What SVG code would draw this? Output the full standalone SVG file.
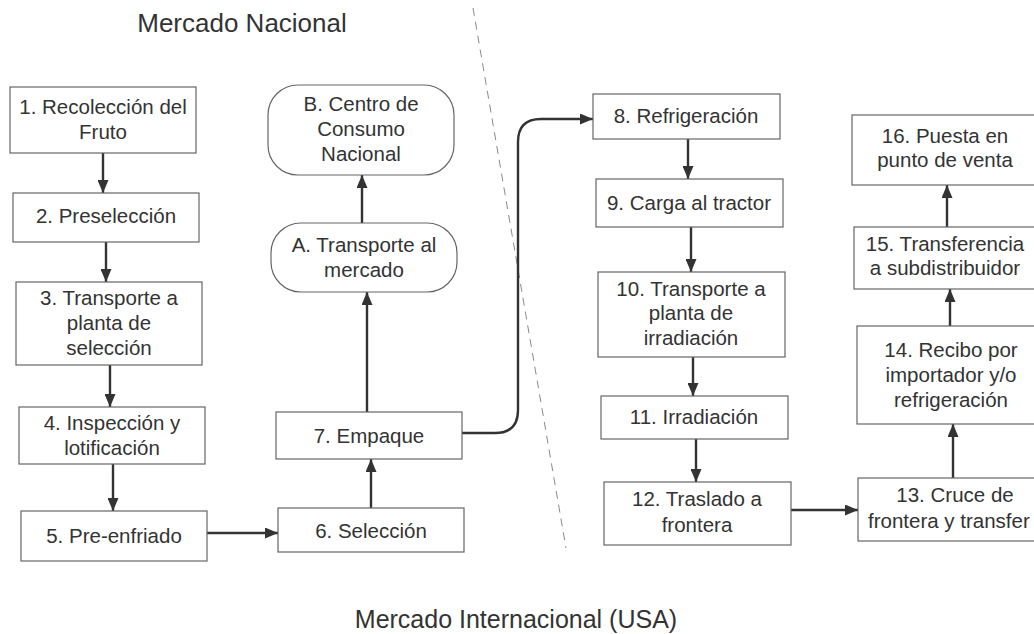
<svg xmlns="http://www.w3.org/2000/svg" width="1034" height="634" viewBox="0 0 1034 634">
<style>
  .box { fill: #ffffff; stroke: #666666; stroke-width: 1.2; }
  .t { font-family: "Liberation Sans", Arial, sans-serif; font-size: 20.5px; fill: #333333; text-anchor: middle; }
  .title { font-family: "Liberation Sans", Arial, sans-serif; font-size: 26px; fill: #333333; text-anchor: middle; }
  .conn { fill: none; stroke: #333333; stroke-width: 2.4; }
  .divider { fill: none; stroke: #8a8a8a; stroke-width: 1; stroke-dasharray: 8 6; }
</style>
<defs>
  <marker id="ah" viewBox="0 0 13 11" refX="13" refY="5.5" markerWidth="13" markerHeight="11" markerUnits="userSpaceOnUse" orient="auto">
    <path d="M0,0 L13,5.5 L0,11 Z" fill="#333333"/>
  </marker>
</defs>
<rect width="1034" height="634" fill="#ffffff"/>

<text class="title" x="242" y="32">Mercado Nacional</text>
<text class="title" x="516" y="628" style="font-size:25px">Mercado Internacional (USA)</text>

<line class="divider" x1="473" y1="8" x2="566" y2="548"/>

<g id="connectors">
  <line class="conn" x1="103" y1="153" x2="103" y2="193" marker-end="url(#ah)"/>
  <line class="conn" x1="106" y1="242" x2="106" y2="282" marker-end="url(#ah)"/>
  <line class="conn" x1="110" y1="365" x2="110" y2="407" marker-end="url(#ah)"/>
  <line class="conn" x1="113" y1="464" x2="113" y2="511" marker-end="url(#ah)"/>
  <line class="conn" x1="207" y1="533" x2="278" y2="533" marker-end="url(#ah)"/>
  <line class="conn" x1="371" y1="508" x2="371" y2="459" marker-end="url(#ah)"/>
  <line class="conn" x1="367" y1="412" x2="367" y2="292" marker-end="url(#ah)"/>
  <line class="conn" x1="362" y1="223" x2="362" y2="175" marker-end="url(#ah)"/>
  <path class="conn" d="M462,433 L495,433 Q518,433 518,410 L518,142 Q518,119 541,119 L593,119" marker-end="url(#ah)"/>
  <line class="conn" x1="688" y1="139" x2="688" y2="179" marker-end="url(#ah)"/>
  <line class="conn" x1="691" y1="227" x2="691" y2="272" marker-end="url(#ah)"/>
  <line class="conn" x1="693" y1="357" x2="693" y2="396" marker-end="url(#ah)"/>
  <line class="conn" x1="696" y1="439" x2="696" y2="482" marker-end="url(#ah)"/>
  <line class="conn" x1="791" y1="510" x2="858" y2="510" marker-end="url(#ah)"/>
  <line class="conn" x1="953" y1="478" x2="953" y2="424" marker-end="url(#ah)"/>
  <line class="conn" x1="950" y1="326" x2="950" y2="289" marker-end="url(#ah)"/>
  <line class="conn" x1="947" y1="227" x2="947" y2="185" marker-end="url(#ah)"/>
</g>

<g id="n1">
  <rect class="box" x="10" y="87" width="186" height="66"/>
  <text class="t" x="103" y="114">1. Recolección del</text>
  <text class="t" x="103" y="139">Fruto</text>
</g>
<g id="n2">
  <rect class="box" x="13" y="193" width="186" height="49"/>
  <text class="t" x="106" y="223">2. Preselección</text>
</g>
<g id="n3">
  <rect class="box" x="16" y="282" width="186" height="83"/>
  <text class="t" x="109" y="305">3. Transporte a</text>
  <text class="t" x="109" y="330">planta de</text>
  <text class="t" x="109" y="355">selección</text>
</g>
<g id="n4">
  <rect class="box" x="19" y="407" width="186" height="57"/>
  <text class="t" x="112" y="430">4. Inspección y</text>
  <text class="t" x="112" y="455">lotificación</text>
</g>
<g id="n5">
  <rect class="box" x="21" y="511" width="186" height="50"/>
  <text class="t" x="114" y="543">5. Pre-enfriado</text>
</g>
<g id="n6">
  <rect class="box" x="278" y="508" width="186" height="44"/>
  <text class="t" x="371" y="538">6. Selección</text>
</g>
<g id="n7">
  <rect class="box" x="276" y="412" width="186" height="47"/>
  <text class="t" x="369" y="443">7. Empaque</text>
</g>
<g id="nA">
  <rect class="box" x="271" y="223" width="186" height="69" rx="30" ry="30"/>
  <text class="t" x="364" y="252">A. Transporte al</text>
  <text class="t" x="364" y="277">mercado</text>
</g>
<g id="nB">
  <rect class="box" x="268" y="85" width="186" height="90" rx="30" ry="30"/>
  <text class="t" x="361" y="111">B. Centro de</text>
  <text class="t" x="361" y="136">Consumo</text>
  <text class="t" x="361" y="161">Nacional</text>
</g>
<g id="n8">
  <rect class="box" x="593" y="94" width="187" height="45"/>
  <text class="t" x="686" y="123">8. Refrigeración</text>
</g>
<g id="n9">
  <rect class="box" x="596" y="179" width="187" height="48"/>
  <text class="t" x="689" y="210">9. Carga al tractor</text>
</g>
<g id="n10">
  <rect class="box" x="598" y="272" width="187" height="85"/>
  <text class="t" x="691" y="296">10. Transporte a</text>
  <text class="t" x="691" y="320">planta de</text>
  <text class="t" x="691" y="345">irradiación</text>
</g>
<g id="n11">
  <rect class="box" x="601" y="396" width="187" height="43"/>
  <text class="t" x="694" y="424">11. Irradiación</text>
</g>
<g id="n12">
  <rect class="box" x="604" y="482" width="187" height="63"/>
  <text class="t" x="697" y="506">12. Traslado a</text>
  <text class="t" x="697" y="532">frontera</text>
</g>
<g id="n13">
  <rect class="box" x="858" y="478" width="190" height="63"/>
  <text class="t" x="955" y="502">13. Cruce de</text>
  <text class="t" x="868" y="528" style="text-anchor:start">frontera y transfer</text>
</g>
<g id="n14">
  <rect class="box" x="857" y="326" width="190" height="98"/>
  <text class="t" x="951" y="357">14. Recibo por</text>
  <text class="t" x="951" y="382">importador y/o</text>
  <text class="t" x="951" y="407">refrigeración</text>
</g>
<g id="n15">
  <rect class="box" x="854" y="227" width="190" height="62"/>
  <text class="t" x="945" y="251">15. Transferencia</text>
  <text class="t" x="945" y="275">a subdistribuidor</text>
</g>
<g id="n16">
  <rect class="box" x="852" y="115" width="190" height="70"/>
  <text class="t" x="945" y="143">16. Puesta en</text>
  <text class="t" x="945" y="167">punto de venta</text>
</g>
</svg>
